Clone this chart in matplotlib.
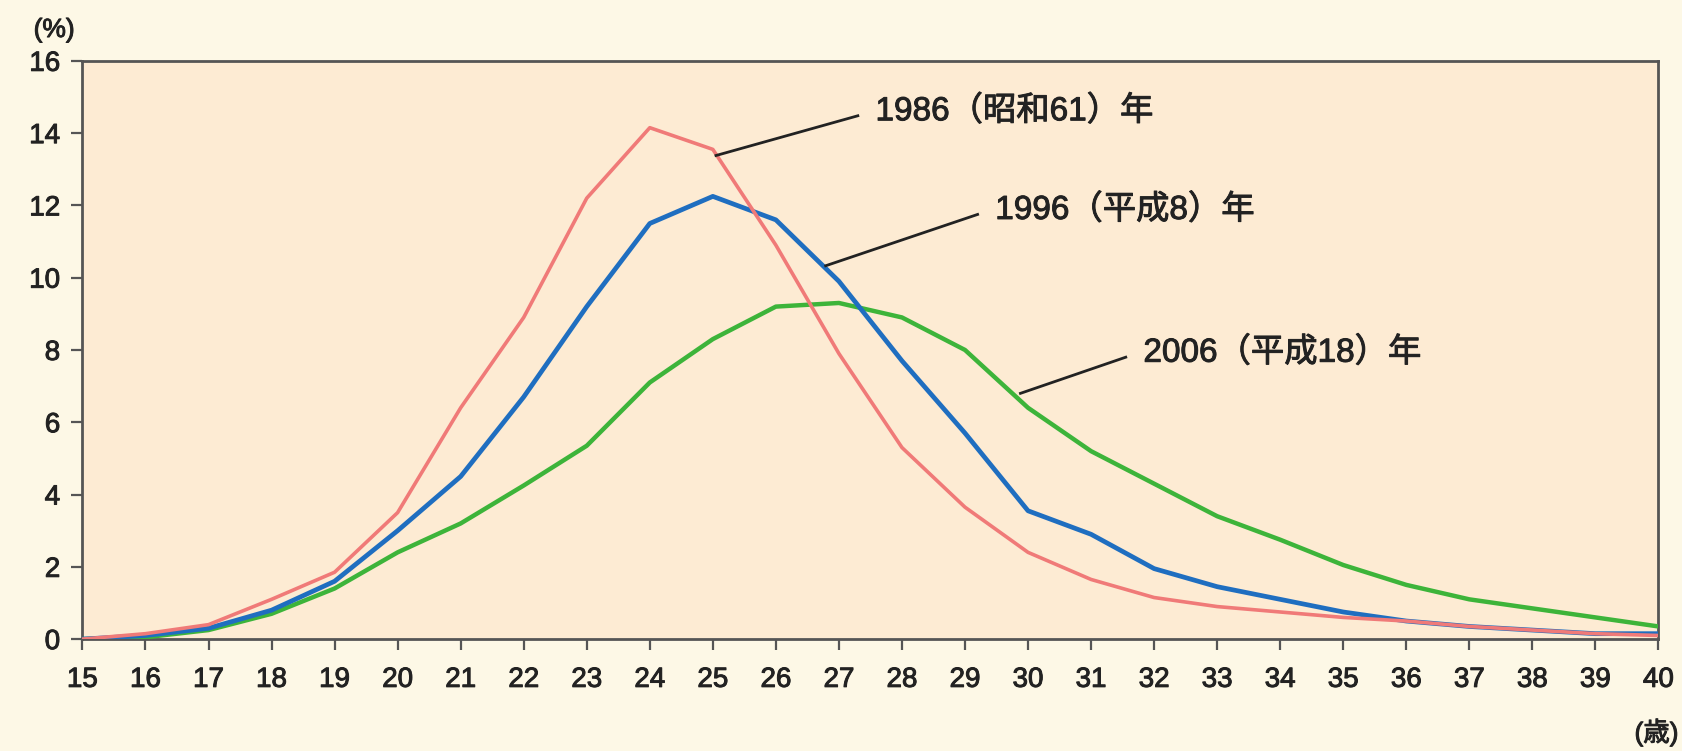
import matplotlib.pyplot as plt
import matplotlib.patheffects as pe
import numpy as np

plt.rcParams['font.family'] = ['Liberation Sans', 'Noto Sans CJK JP', 'DejaVu Sans']

# ---- DATA ----
ages = list(range(15, 41))
rate_1986 = [0, 0.15, 0.4, 1.1, 1.85, 3.5, 6.4, 8.9, 12.2, 14.15, 13.55, 10.9, 7.9,
             5.3, 3.65, 2.4, 1.65, 1.15, 0.9, 0.75, 0.6, 0.5, 0.35, 0.25, 0.15, 0.1]
rate_1996 = [0, 0.1, 0.3, 0.8, 1.6, 3.0, 4.5, 6.7, 9.2, 11.5, 12.25, 11.6, 9.9,
             7.7, 5.7, 3.55, 2.9, 1.95, 1.45, 1.1, 0.75, 0.5, 0.35, 0.25, 0.15, 0.15]
rate_2006 = [0, 0.05, 0.25, 0.7, 1.4, 2.4, 3.2, 4.25, 5.35, 7.1, 8.3, 9.2, 9.3,
             8.9, 8.0, 6.4, 5.2, 4.3, 3.4, 2.75, 2.05, 1.5, 1.1, 0.85, 0.6, 0.35]
labels = ["1986（昭和61）年", "1996（平成8）年", "2006（平成18）年"]
yticks = list(range(0, 17, 2))

# ---- PLOT ----
fig = plt.figure(figsize=(16.82, 7.51), dpi=100, facecolor="#FDF8E6")
ax = fig.add_axes([0.049, 0.149, 0.937, 0.770])
ax.set_facecolor("#FDEBD3")

ax.plot(ages, rate_2006, color="#3DB43A", lw=3.2, zorder=3)
ax.plot(ages, rate_1996, color="#1F6EC0", lw=3.4, zorder=4)
ax.plot(ages, rate_1986, color="#F07A78", lw=2.6, zorder=5)

thick = [pe.withStroke(linewidth=0.7, foreground="#222222")]

# leader lines + labels
ann = [((25.05, 13.38), (27.3, 14.48)),
       ((26.79, 10.33), (29.2, 11.75)),
       ((29.88, 6.8), (31.55, 7.8))]
for lab, (p0, p1) in zip(labels, ann):
    ax.plot([p0[0], p1[0]], [p0[1], p1[1]], color="#222222", lw=2, zorder=6)
    ax.text(p1[0] + 0.28, p1[1] + 0.12, lab, fontsize=24, va="center", ha="left",
            color="#222222", path_effects=thick)

ax.set_xlim(15, 40)
ax.set_ylim(0, 16)
ax.set_xticks(ages)
ax.set_yticks(yticks)
ax.tick_params(axis="both", direction="out", length=8, width=1.6, color="#555555",
               labelsize=20, labelcolor="#222222")
ax.tick_params(axis="x", pad=12)
ax.tick_params(axis="y", pad=8)
for t in ax.get_xticklabels() + ax.get_yticklabels():
    t.set_path_effects(thick)
for s in ax.spines.values():
    s.set_color("#555555")
    s.set_linewidth(2)

fig.text(0.02, 0.96, "(%)", fontsize=19, ha="left", va="center", color="#222222",
         path_effects=thick)
fig.text(0.998, 0.025, "(歳)", fontsize=19, ha="right", va="center", color="#222222",
         path_effects=thick)

plt.savefig("out.png", dpi=100, facecolor=fig.get_facecolor())
